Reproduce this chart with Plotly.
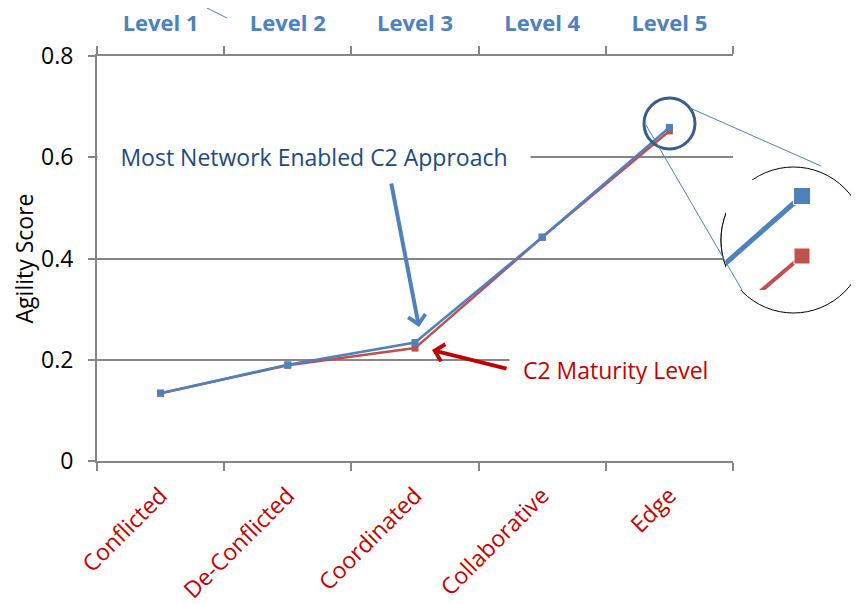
"""
Agility score by C2 maturity level vs. most network enabled C2 approach
"""
import plotly.graph_objects as go

# Data ------------------------------------------------------------------------
categories = ["Conflicted", "De-Conflicted", "Coordinated", "Collaborative", "Edge"]
levels = ["Level 1", "Level 2", "Level 3", "Level 4", "Level 5"]
maturity_level = [0.134, 0.189, 0.223, 0.442, 0.652]
network_enabled = [0.134, 0.190, 0.234, 0.442, 0.659]

# Style -----------------------------------------------------------------------
BLUE = "#4F81BD"
RED = "#C0504D"
TEXT_RED = "#C00000"
TEXT_BLUE = "#1F497D"
GREY = "#868686"
FONT = "Open Sans"


# page pixels -> paper coords (plot area: left 97, right 733, top 56, bottom 461)
def px(x):
    return (x - 97) / 762


def py(y):
    return (461 - y) / 405


# page pixels -> main axis coords
def cx(x):
    return (x - 97) / 127.2 - 0.5


def cy(y):
    return (461 - y) / 506.25


# inset scale (pixels per unit) so the two Edge points sit 60 px apart
sy = 60 / (network_enabled[-1] - maturity_level[-1])
sx = sy * (network_enabled[-1] - network_enabled[-2]) / 0.88
inset_xrange = [4 - 76 / sx, 4 + 8 / sx]
inset_yrange = [network_enabled[-1] - 94 / sy, network_enabled[-1] + 16 / sy]

# Figure ----------------------------------------------------------------------
fig = go.Figure()

fig.add_trace(go.Scatter(
    x=categories, y=maturity_level, mode="lines+markers",
    line=dict(color=RED, width=2.5),
    marker=dict(symbol="square", size=7, color=RED),
    hoverinfo="skip",
))
fig.add_trace(go.Scatter(
    x=categories, y=network_enabled, mode="lines+markers",
    line=dict(color=BLUE, width=2.5),
    marker=dict(symbol="square", size=7, color=BLUE),
    hoverinfo="skip",
))
# invisible trace so the top axis gets the level categories
fig.add_trace(go.Scatter(
    x=levels, y=network_enabled, xaxis="x2", mode="markers",
    marker=dict(opacity=0), hoverinfo="skip",
))

# magnified Edge points
pos = [3, 4]
fig.add_trace(go.Scatter(
    x=pos, y=maturity_level[-2:], xaxis="x3", yaxis="y3",
    mode="lines+markers", cliponaxis=False,
    line=dict(color=RED, width=4),
    marker=dict(symbol="square", size=[0, 16], color=RED, opacity=1),
    hoverinfo="skip",
))
fig.add_trace(go.Scatter(
    x=pos, y=network_enabled[-2:], xaxis="x3", yaxis="y3",
    mode="lines+markers", cliponaxis=False,
    line=dict(color=BLUE, width=5),
    marker=dict(symbol="square", size=[0, 17], color=BLUE, opacity=1),
    hoverinfo="skip",
))

circle_style = dict(fillcolor="white", line=dict(color="black", width=1))
shapes = [
    # magnifier circle: full one under everything, plus a copy over the grid
    dict(type="circle", xref="paper", yref="paper", layer="below",
         x0=px(721), x1=px(866), y0=py(313), y1=py(167), **circle_style),
    dict(type="circle", xref="x", yref="y", layer="between",
         x0=cx(721), x1=cx(866), y0=cy(313), y1=cy(167), **circle_style),
    # small circle round the Edge point
    dict(type="circle", xref="paper", yref="paper", layer="above",
         x0=px(644), x1=px(695), y0=py(149), y1=py(98),
         line=dict(color="#385D8A", width=3)),
    dict(type="line", xref="paper", yref="paper",
         x0=px(690), y0=py(108), x1=px(821), y1=py(166),
         line=dict(color=BLUE, width=1)),
    dict(type="line", xref="paper", yref="paper",
         x0=px(646), y0=py(125), x1=px(742), y1=py(290),
         line=dict(color=BLUE, width=1)),
    dict(type="line", xref="paper", yref="paper",
         x0=px(207), y0=py(8), x1=px(227), y1=py(18),
         line=dict(color=BLUE, width=1)),
]

annotations = [
    dict(text="Most Network Enabled C2 Approach", xref="paper", yref="paper",
         x=px(314), y=py(157), xanchor="center", yanchor="middle",
         width=430, height=28, bgcolor="white", showarrow=False,
         font=dict(family=FONT, size=23, color=TEXT_BLUE)),
    dict(text="\u00a0\u00a0C2 Maturity Level", xref="paper", yref="paper",
         x=px(509), y=py(370), xanchor="left", yanchor="middle", align="left",
         width=232, height=28, bgcolor="white", showarrow=False,
         font=dict(family=FONT, size=23, color=TEXT_RED)),
    dict(text="", xref="paper", yref="paper", x=px(419), y=py(327),
         ax=-28, ay=-145, showarrow=True, arrowhead=4, arrowsize=0.85,
         arrowwidth=4, arrowcolor=BLUE),
    dict(text="", xref="paper", yref="paper", x=px(432), y=py(350),
         ax=76, ay=19, showarrow=True, arrowhead=4, arrowsize=0.85,
         arrowwidth=4, arrowcolor=TEXT_RED),
]

# the page body has an 8 px margin, so the figure is 8 px smaller each way
fig.update_layout(
    width=851, height=596,
    margin=dict(l=89, r=0, t=48, b=143),
    paper_bgcolor="white", plot_bgcolor="white",
    showlegend=False,
    font=dict(family=FONT, color="black"),
    xaxis=dict(
        domain=[0, 636 / 762], type="category", range=[-0.5, 4.5],
        tickson="boundaries", ticks="outside", ticklen=8, tickwidth=2,
        tickcolor=GREY, showline=True, linecolor=GREY, linewidth=2,
        showgrid=False, tickangle=-45, automargin=False,
        ticklabelstandoff=10,
        tickfont=dict(family=FONT, size=23, color=TEXT_RED),
    ),
    xaxis2=dict(
        overlaying="x", side="top", anchor="y", type="category",
        range=[-0.5, 4.5], tickson="boundaries", ticks="outside", ticklen=8,
        tickwidth=2, tickcolor=GREY, showline=True, linecolor=GREY,
        linewidth=2, showgrid=False, ticklabelstandoff=14, automargin=False,
        tickfont=dict(family=FONT, size=22, color=BLUE, weight="bold"),
    ),
    yaxis=dict(
        range=[0, 0.8], dtick=0.2, ticks="outside", ticklen=7, tickwidth=2,
        tickcolor=GREY, showline=True, linecolor=GREY, linewidth=2,
        showgrid=True, gridcolor=GREY, gridwidth=1.5, zeroline=False,
        ticklabelstandoff=10, automargin=False,
        tickfont=dict(family=FONT, size=23, color="black"),
        title=dict(text="Agility Score", standoff=10,
                   font=dict(family=FONT, size=23, color="black")),
    ),
    xaxis3=dict(domain=[px(726), px(810)], range=inset_xrange, anchor="y3",
                visible=False, showgrid=False, zeroline=False),
    yaxis3=dict(domain=[py(290), py(180)], range=inset_yrange, anchor="x3",
                visible=False, showgrid=False, zeroline=False),
    shapes=shapes,
    annotations=annotations,
)

fig.write_html("out.html")
